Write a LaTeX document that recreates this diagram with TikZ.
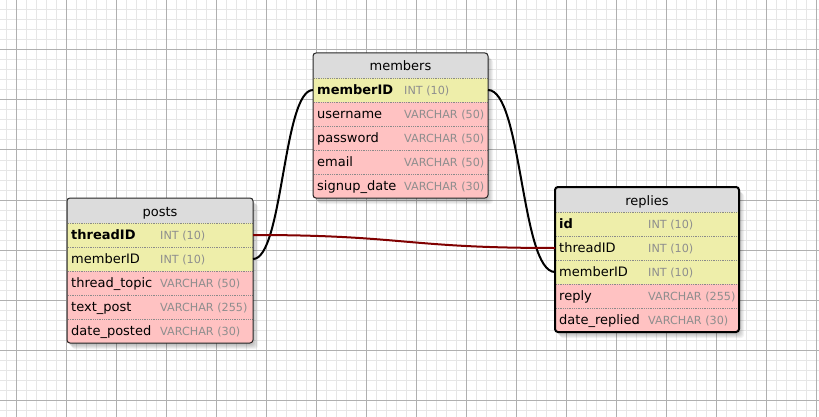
\documentclass[tikz,border=0pt]{standalone}
\usepackage{fontspec}
\setmainfont{DejaVu Sans}
\definecolor{hdrfill}{HTML}{DCDCDC}
\definecolor{keyfill}{HTML}{EEEEAA}
\definecolor{fldfill}{HTML}{FFC2C2}
\definecolor{typecol}{HTML}{8E8E8E}
\definecolor{gridfine}{HTML}{E6E6E6}
\definecolor{gridmajor}{HTML}{B0B0B0}
\definecolor{sepcol}{HTML}{8A8A8A}
\definecolor{relred}{HTML}{800000}
\tikzset{
  hdrbox/.style={inner sep=0pt, outer sep=0pt, anchor=north west, minimum height=25pt, minimum width=#1, fill=hdrfill},
  rowbox/.style={inner sep=0pt, outer sep=0pt, anchor=north west, minimum height=24pt, minimum width=#1},
  titletext/.style={inner sep=0pt, anchor=base, font=\fontsize{13}{15}\selectfont},
  nametext/.style={inner sep=0pt, font=\fontsize{13}{15}\selectfont},
  keytext/.style={inner sep=0pt, font=\fontsize{13}{15}\selectfont\bfseries},
  typetext/.style={inner sep=0pt, text=typecol, font=\fontsize{11.2}{13}\selectfont},
  sepline/.style={sepcol, densely dotted, line width=0.8pt},
  tblborder/.style={draw=black!85, line width=1pt, rounded corners=3pt},
  selborder/.style={draw=black, line width=2pt, rounded corners=3pt},
  relblack/.style={black, line width=2pt},
  relline/.style={relred, line width=2pt},
  gridf/.style={gridfine, line width=1pt},
  gridm/.style={gridmajor, line width=1pt},
}
% table header: name, x, y, width, title
\newcommand\dbhead[5]{%
  \foreach \s in {1,...,6}{\fill[black, opacity=0.05, rounded corners=3pt] (#2+\s-1,#3+\s) rectangle ++(#4,145);}
  \node[hdrbox=#4pt] (#1) at (#2,#3) {};
  \node[titletext] (#1-title) at ([yshift=-5.5pt]#1.center) {#5};
}
% row: tbl, key, prev, fill, namestyle, name, type, width, typeoffset
\newcommand\dbrow[9]{%
  \node[rowbox=#8pt, fill=#4] (#1-#2) at (#3.south west) {};
  \draw[sepline] ([xshift=1pt]#1-#2.north west) -- ([xshift=-1pt]#1-#2.north east);
  \node[#5, anchor=base west] (#1-#2-n) at ([xshift=4pt,yshift=-4.5pt]#1-#2.west) {#6};
  \node[typetext, anchor=base west] (#1-#2-t) at ([xshift=#9pt,yshift=-4.5pt]#1-#2.west) {#7};
}
\begin{document}
\begin{tikzpicture}[x=1pt, y=-1pt]
\useasboundingbox (0,0) rectangle (819,417);
\fill[white] (0,0) rectangle (819,417);
% grid
\foreach \x in {6,16,...,816} \draw[gridf] (\x,0) -- (\x,417);
\foreach \y in {0,10,...,410} \draw[gridf] (0,\y) -- (819,\y);
\foreach \x in {16,66,...,816} \draw[gridm] (\x,0) -- (\x,417);
\foreach \y in {0,50,...,400} \draw[gridm] (0,\y) -- (819,\y);

% members
\dbhead{members}{313}{53}{175}{members}
\dbrow{members}{memberID}{members}{keyfill}{keytext}{memberID}{INT (10)}{175}{91}
\dbrow{members}{username}{members-memberID}{fldfill}{nametext}{username}{VARCHAR (50)}{175}{91}
\dbrow{members}{password}{members-username}{fldfill}{nametext}{password}{VARCHAR (50)}{175}{91}
\dbrow{members}{email}{members-password}{fldfill}{nametext}{email}{VARCHAR (50)}{175}{91}
\dbrow{members}{signupdate}{members-email}{fldfill}{nametext}{signup\_date}{VARCHAR (30)}{175}{91}
\draw[tblborder] (members.north west) rectangle (members-signupdate.south east);

% posts
\dbhead{posts}{67}{198}{186}{posts}
\dbrow{posts}{threadID}{posts}{keyfill}{keytext}{threadID}{INT (10)}{186}{93}
\dbrow{posts}{memberID}{posts-threadID}{keyfill}{nametext}{memberID}{INT (10)}{186}{93}
\dbrow{posts}{topic}{posts-memberID}{fldfill}{nametext}{thread\_topic}{VARCHAR (50)}{186}{93}
\dbrow{posts}{text}{posts-topic}{fldfill}{nametext}{text\_post}{VARCHAR (255)}{186}{93}
\dbrow{posts}{date}{posts-text}{fldfill}{nametext}{date\_posted}{VARCHAR (30)}{186}{93}
\draw[tblborder] (posts.north west) rectangle (posts-date.south east);

% replies
\dbhead{replies}{555}{187}{184}{replies}
\dbrow{replies}{id}{replies}{keyfill}{keytext}{id}{INT (10)}{184}{93}
\dbrow{replies}{threadID}{replies-id}{keyfill}{nametext}{threadID}{INT (10)}{184}{93}
\dbrow{replies}{memberID}{replies-threadID}{keyfill}{nametext}{memberID}{INT (10)}{184}{93}
\dbrow{replies}{reply}{replies-memberID}{fldfill}{nametext}{reply}{VARCHAR (255)}{184}{93}
\dbrow{replies}{date}{replies-reply}{fldfill}{nametext}{date\_replied}{VARCHAR (30)}{184}{93}
\draw[selborder] (replies.north west) rectangle (replies-date.south east);

% relations
\draw[relblack] (members-memberID.west) .. controls +(-30,0) and +(30,0) .. (posts-memberID.east);
\draw[relblack] (members-memberID.east) .. controls +(34,0) and +(-34,0) .. (replies-memberID.west);
\draw[relline] (posts-threadID.east) .. controls +(151,0) and +(-151,0) .. (replies-threadID.west);
\end{tikzpicture}
\end{document}
